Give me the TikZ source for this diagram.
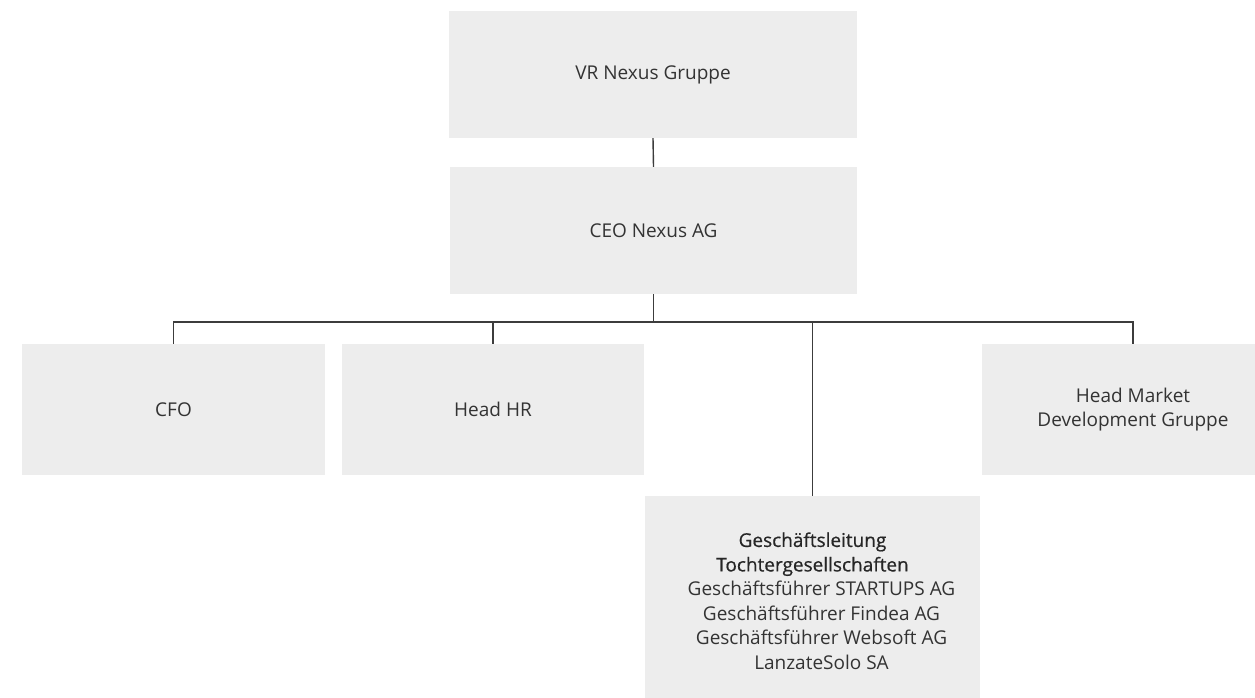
\documentclass[tikz,border=0pt]{standalone}
\usepackage{fontspec}
\setmainfont{Open Sans}
\newfontfamily\titlefont{Open Sans}[FakeBold=0.6]
\definecolor{boxfill}{HTML}{EDEDED}
\definecolor{txt}{HTML}{333333}
\definecolor{ln}{HTML}{3C3C3C}
\newcommand{\bodyline}[1]{\hspace*{18pt}#1}
\begin{document}
\begin{tikzpicture}[x=1pt,y=-1pt,
  orgbox/.style={rectangle, fill=boxfill, draw=none, inner sep=0pt, text=txt,
    font=\fontsize{19}{24.5}\selectfont, align=center},
  conn/.style={draw=ln, line width=1.4pt}]
\useasboundingbox (0,0) rectangle (1255,698);
\clip (0,0) rectangle (1255,698);
\node[orgbox, minimum width=408pt, minimum height=127pt] (vr) at (653,74.5) {VR Nexus Gruppe};
\node[orgbox, minimum width=407pt, minimum height=127pt] (ceo) at (653.5,230.5) {CEO Nexus AG};
\node[orgbox, minimum width=303pt, minimum height=131pt] (cfo) at (173.5,409.5) {CFO};
\node[orgbox, minimum width=302pt, minimum height=131pt] (hr) at (493,409.5) {Head HR};
\node[orgbox, minimum width=302pt, minimum height=131pt] (hmd) at (1133,409.5) {Head Market\\Development Gruppe};
\node[orgbox, minimum width=335pt, minimum height=210pt] (gl) at (812.5,601) {{\titlefont\color{black!85}Geschäftsleitung}\\{\titlefont\color{black!85}Tochtergesellschaften}\\\bodyline{Geschäftsführer STARTUPS AG}\\\bodyline{Geschäftsführer Findea AG}\\\bodyline{Geschäftsführer Websoft AG}\\\bodyline{LanzateSolo SA}};
\coordinate (bus) at (653,322);
\draw[conn] (vr.south) -- (ceo.north);
\draw[conn] (ceo.south) -- (ceo.south |- bus);
\draw[conn] (cfo.north) -- (cfo.north |- bus) -- (hmd.north |- bus) -- (hmd.north);
\draw[conn] (hr.north) -- (hr.north |- bus);
\draw[conn] (gl.north) -- (gl.north |- bus);
\end{tikzpicture}
\end{document}
